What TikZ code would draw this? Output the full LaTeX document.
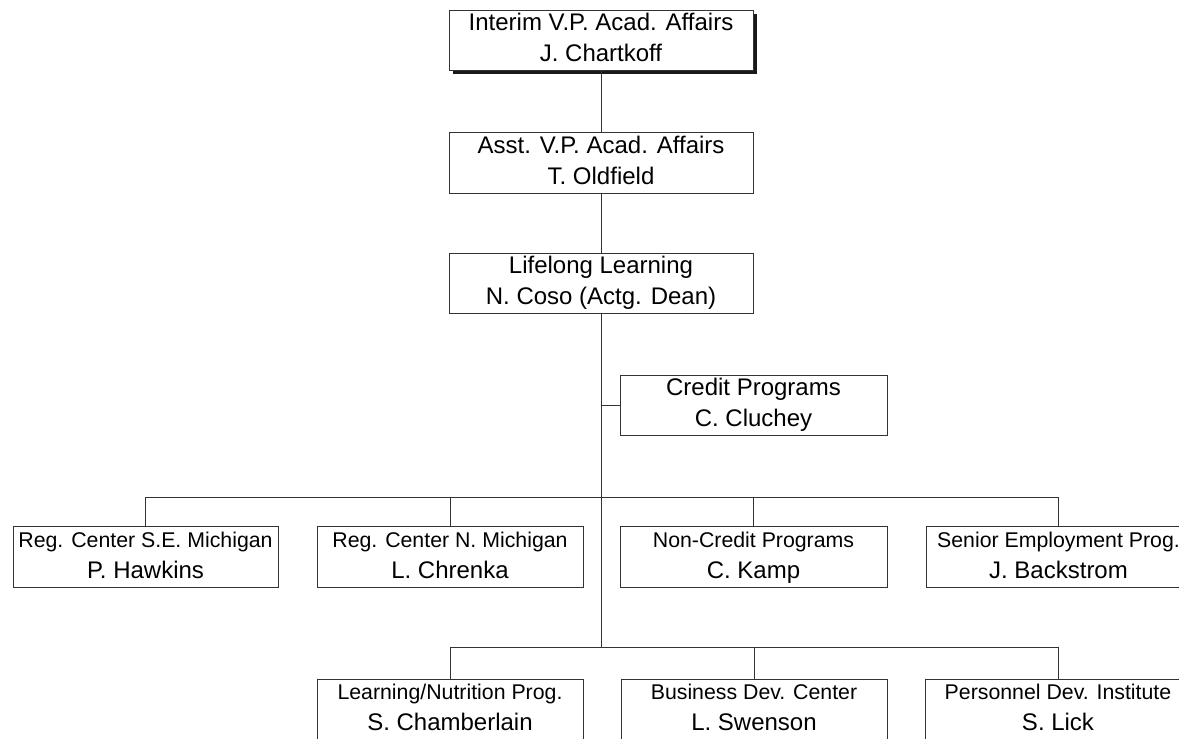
\documentclass[tikz,border=0pt]{standalone}
\usepackage{fontspec}
\setmainfont{Liberation Sans}
\newcommand{\smline}[1]{{\fontsize{21.3}{31}\selectfont #1}}
\newcommand{\evn}{\vphantom{(}}
\begin{document}
\begin{tikzpicture}[x=1pt,y=-1pt,
  box/.style={draw=black!80, line width=0.8pt, fill=white, rectangle,
    inner sep=0pt, minimum height=61pt, align=center,
    font=\fontsize{24}{31}\selectfont, text=black},
  conn/.style={draw=black!80, line width=0.8pt}]
\useasboundingbox (0,0) rectangle (1179,739);
\fill[white] (0,0) rectangle (1179,739);
\clip (0,0) rectangle (1179,739);

% top box with shadow
\fill[black!90] (453,14) rectangle (757,74);
\node[box, minimum width=304pt, minimum height=60pt] (vp) at (601,40)
  {\evn Interim V.P. Acad. Affairs\\J. Chartkoff\evn};
\node[box, minimum width=304pt] (asst) at (601,162.5)
  {\evn Asst. V.P. Acad. Affairs\\T. Oldfield\evn};
\node[box, minimum width=304pt, minimum height=60pt] (ll) at (601,283)
  {\evn Lifelong Learning\\N. Coso (Actg. Dean)\evn};
\node[box, minimum width=267pt, minimum height=60pt] (credit) at (753.5,405)
  {\evn Credit Programs\\C. Cluchey\evn};

% row 1
\node[box, minimum width=265pt] (r1a) at (145.5,556.5)
  {\evn\smline{Reg. Center S.E. Michigan}\\P. Hawkins\evn};
\node[box, minimum width=266pt] (r1b) at (450,556.5)
  {\evn\smline{Reg. Center N. Michigan}\\L. Chrenka\evn};
\node[box, minimum width=267pt] (r1c) at (753.5,556.5)
  {\evn\smline{Non-Credit Programs}\\C. Kamp\evn};
\node[box, minimum width=265pt] (r1d) at (1058.5,556.5)
  {\evn\smline{Senior Employment Prog.}\\J. Backstrom\evn};

% row 2
\node[box, minimum width=266pt, minimum height=60pt] (r2a) at (450,709)
  {\evn\smline{Learning/Nutrition Prog.}\\S. Chamberlain\evn};
\node[box, minimum width=266pt, minimum height=60pt] (r2b) at (754,709)
  {\evn\smline{Business Dev. Center}\\L. Swenson\evn};
\node[box, minimum width=265pt, minimum height=60pt] (r2c) at (1058,709)
  {\evn\smline{Personnel Dev. Institute}\\S. Lick\evn};

% connectors
\coordinate (bus1) at (601,497);
\coordinate (bus2) at (601,647);
\draw[conn] (vp.south) -- (asst.north);
\draw[conn] (asst.south) -- (ll.north);
\draw[conn] (ll.south) -- (bus2);
\draw[conn] (ll.south |- credit.west) -- (credit.west);
\draw[conn] (r1a.north) -- (r1a.north |- bus1) -- (r1d.north |- bus1) -- (r1d.north);
\draw[conn] (r1b.north |- bus1) -- (r1b.north);
\draw[conn] (r1c.north |- bus1) -- (r1c.north);
\draw[conn] (r2a.north) -- (r2a.north |- bus2) -- (r2c.north |- bus2) -- (r2c.north);
\draw[conn] (r2b.north |- bus2) -- (r2b.north);
\end{tikzpicture}
\end{document}
